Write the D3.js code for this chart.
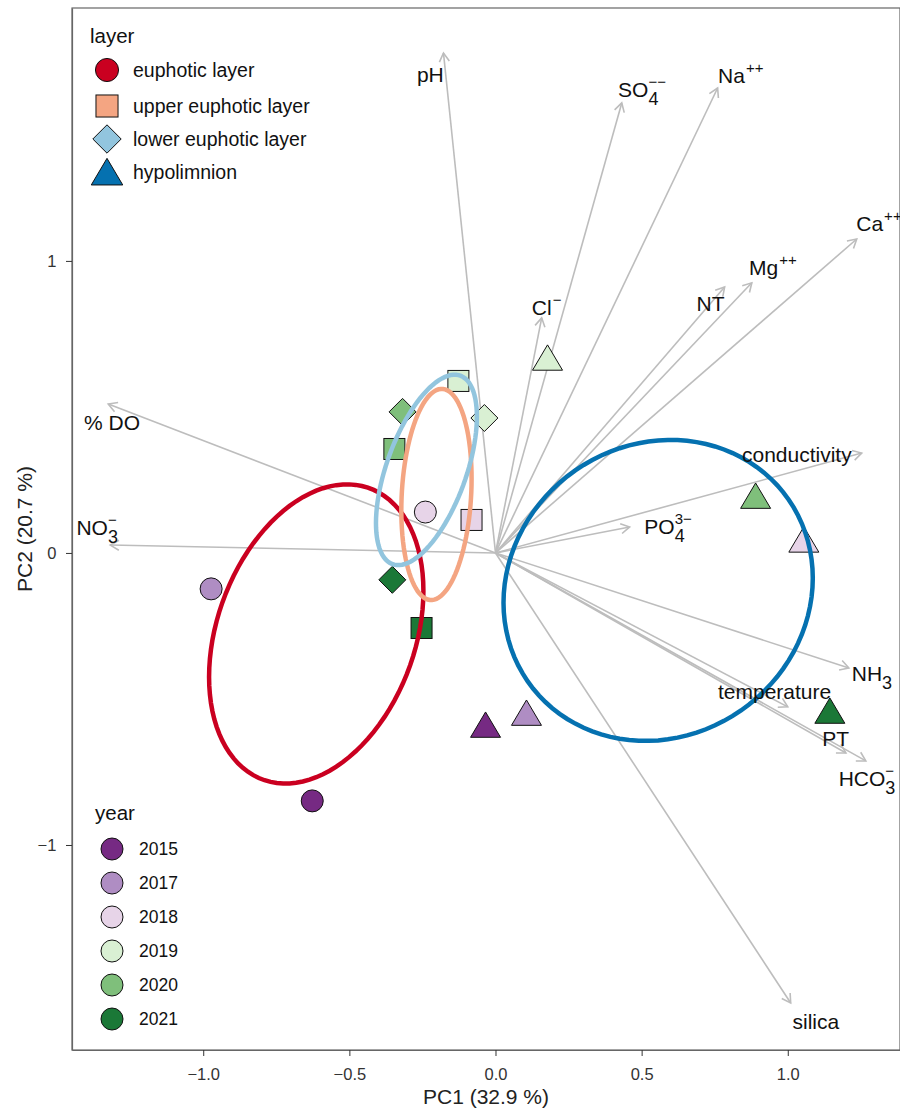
<!DOCTYPE html>
<html>
<head>
<meta charset="utf-8">
<script src="https://cdn.jsdelivr.net/npm/d3@7"></script>
<style>
  body { margin: 0; background: #fff; }
  svg { display: block; font-family: "Liberation Sans", Arial, sans-serif; }
</style>
</head>
<body>
<svg id="chart" width="900" height="1118"></svg>
<script>
// ---------- DATA ----------
const layers = ["euphotic layer", "upper euphotic layer", "lower euphotic layer", "hypolimnion"];
const layerColors = ["#CA0020", "#F4A582", "#92C5DE", "#0571B0"];
const years = ["2015", "2017", "2018", "2019", "2020", "2021"];
const yearColors = ["#762A83", "#AF8DC3", "#E7D4E8", "#D9F0D3", "#7FBF7B", "#1B7837"];

// samples: PC1, PC2, layer, year
const sampleLayer = [
  "euphotic layer", "euphotic layer", "euphotic layer",
  "upper euphotic layer", "upper euphotic layer", "upper euphotic layer", "upper euphotic layer",
  "lower euphotic layer", "lower euphotic layer", "lower euphotic layer",
  "hypolimnion", "hypolimnion", "hypolimnion", "hypolimnion", "hypolimnion", "hypolimnion"
];
const sampleYear = [
  "2017", "2015", "2018",
  "2019", "2020", "2018", "2021",
  "2020", "2019", "2021",
  "2019", "2020", "2018", "2021", "2015", "2017"
];
const samplePC1 = [-0.973, -0.627, -0.240, -0.127, -0.346, -0.082, -0.253, -0.318, -0.038, -0.353, 0.178, 0.890, 1.055, 1.144, -0.034, 0.106];
const samplePC2 = [-0.123, -0.849, 0.140, 0.589, 0.356, 0.113, -0.257, 0.483, 0.462, -0.092, 0.668, 0.195, 0.045, -0.541, -0.589, -0.548];

// loadings (arrow tips)
const varNames = ["pH", "SO4", "Na", "Ca", "Mg", "NT", "Cl", "conductivity", "PO4", "NH3", "temperature", "PT", "HCO3", "silica", "DO", "NO3"];
const varPC1 = [-0.178, 0.432, 0.760, 1.236, 0.877, 0.784, 0.158, 1.253, 0.459, 1.209, 1.000, 1.199, 1.267, 1.010, -1.325, -1.318];
const varPC2 = [1.712, 1.541, 1.592, 1.075, 0.925, 0.911, 0.805, 0.342, 0.089, -0.394, -0.527, -0.685, -0.712, -1.541, 0.510, 0.027];
// label text parts: base, subscript, superscript
const varBase = ["pH", "SO", "Na", "Ca", "Mg", "NT", "Cl", "conductivity", "PO", "NH", "temperature", "PT", "HCO", "silica", "% DO", "NO"];
const varSub  = ["", "4", "", "", "", "", "", "", "4", "3", "", "", "3", "", "", "3"];
const varSup  = ["", "\u2212\u2212", "++", "++", "++", "", "\u2212", "", "3\u2212", "", "", "", "\u2212", "", "", "\u2212"];
// label centres in PC units
const labPC1 = [-0.223, 0.503, 0.839, 1.312, 0.949, 0.736, 0.175, 1.031, 0.592, 1.288, 0.955, 1.164, 1.271, 1.096, -1.312, -1.363];
const labPC2 = [1.637, 1.586, 1.634, 1.127, 0.976, 0.853, 0.842, 0.336, 0.092, -0.414, -0.473, -0.634, -0.771, -1.606, 0.445, 0.086];

const xTicks = [-1.0, -0.5, 0.0, 0.5, 1.0];
const yTicks = [-1, 0, 1];
const xTitle = "PC1 (32.9 %)";
const yTitle = "PC2 (20.7 %)";

// ---------- LAYOUT ----------
const svg = d3.select("#chart");
const pLeft = 72, pRight = 900, pTop = 8, pBottom = 1050;
const x = d3.scaleLinear().domain([-1.449, 1.384]).range([pLeft, pRight]);
const y = d3.scaleLinear().domain([-1.702, 1.866]).range([pBottom, pTop]);
const layerFill = d3.scaleOrdinal().domain(layers).range(layerColors);
const yearFill = d3.scaleOrdinal().domain(years).range(yearColors);
const minus = s => s.replace("-", "\u2212");

function drawShape(g, layer, fill, s) {
  s = s || 1;
  if (layer === "euphotic layer") {
    g.append("circle").attr("r", 11 * s).attr("fill", fill).attr("stroke", "#111").attr("stroke-width", 1);
  } else if (layer === "upper euphotic layer") {
    const h = 10.5 * s;
    g.append("rect").attr("x", -h).attr("y", -h).attr("width", 2 * h).attr("height", 2 * h)
      .attr("fill", fill).attr("stroke", "#111").attr("stroke-width", 1);
  } else if (layer === "lower euphotic layer") {
    const h = 13.5 * s;
    g.append("path").attr("d", `M0,${-h}L${h},0L0,${h}L${-h},0Z`)
      .attr("fill", fill).attr("stroke", "#111").attr("stroke-width", 1);
  } else {
    const w = 15 * s, hh = 13 * s;
    g.append("path").attr("d", `M0,${-hh}L${w},${hh * 0.95}L${-w},${hh * 0.95}Z`)
      .attr("fill", fill).attr("stroke", "#111").attr("stroke-width", 1);
  }
}

// panel border
svg.append("rect").attr("x", pLeft).attr("y", pTop).attr("width", pRight - pLeft).attr("height", pBottom - pTop)
  .attr("fill", "none").attr("stroke", "#666").attr("stroke-width", 1.2);

// axes
const xAxis = d3.axisBottom(x).tickValues(xTicks).tickFormat(d => minus(d3.format(".1f")(d))).tickSize(6).tickSizeOuter(0);
const gx = svg.append("g").attr("transform", `translate(0,${pBottom})`).call(xAxis);
gx.select(".domain").attr("stroke", "#666").attr("stroke-width", 1.2);
gx.selectAll(".tick line").attr("stroke", "#333");
gx.selectAll(".tick text").attr("font-size", 16.5).attr("fill", "#333").attr("dy", "1.27em")
  .attr("font-family", "Liberation Sans, Arial, sans-serif");

const yAxis = d3.axisLeft(y).tickValues(yTicks).tickFormat(d => minus(String(d))).tickSize(6).tickSizeOuter(0);
const gy = svg.append("g").attr("transform", `translate(${pLeft},0)`).call(yAxis);
gy.select(".domain").attr("stroke", "#666").attr("stroke-width", 1.2);
gy.selectAll(".tick line").attr("stroke", "#333");
gy.selectAll(".tick text").attr("font-size", 16.5).attr("fill", "#333").attr("dx", "-0.4em")
  .attr("font-family", "Liberation Sans, Arial, sans-serif");

svg.append("text").attr("x", (pLeft + pRight) / 2).attr("y", 1104).attr("text-anchor", "middle")
  .attr("font-size", 21).attr("fill", "#222").text(xTitle);
svg.append("text").attr("transform", `translate(32,${(pTop + pBottom) / 2}) rotate(-90)`).attr("text-anchor", "middle")
  .attr("font-size", 21).attr("fill", "#222").text(yTitle);

// arrows
const plot = svg.append("g");
const arrowG = plot.append("g");
varNames.forEach((v, i) => {
  const x0 = x(0), y0 = y(0), x1 = x(varPC1[i]), y1 = y(varPC2[i]);
  arrowG.append("line").attr("x1", x0).attr("y1", y0).attr("x2", x1).attr("y2", y1)
    .attr("stroke", "#BDBDBD").attr("stroke-width", 1.6);
  const ang = Math.atan2(y1 - y0, x1 - x0), L = 10, a = Math.PI / 6;
  const p1 = [x1 - L * Math.cos(ang - a), y1 - L * Math.sin(ang - a)];
  const p2 = [x1 - L * Math.cos(ang + a), y1 - L * Math.sin(ang + a)];
  arrowG.append("path").attr("d", `M${p1[0]},${p1[1]}L${x1},${y1}L${p2[0]},${p2[1]}`)
    .attr("fill", "none").attr("stroke", "#BDBDBD").attr("stroke-width", 1.6);
});

// points
const ptG = plot.append("g");
samplePC1.forEach((d, i) => {
  const g = ptG.append("g").attr("transform", `translate(${x(samplePC1[i])},${y(samplePC2[i])})`);
  drawShape(g, sampleLayer[i], yearFill(sampleYear[i]), 1);
});

// ellipses (normal data ellipse from group covariance)
const ed = 1.0;
const ellG = plot.append("g");
layers.forEach(layer => {
  const idx = sampleLayer.map((l, i) => l === layer ? i : -1).filter(i => i >= 0);
  const xs = idx.map(i => samplePC1[i]), ys = idx.map(i => samplePC2[i]);
  const n = xs.length, mx = d3.mean(xs), my = d3.mean(ys);
  let sxx = 0, syy = 0, sxy = 0;
  for (let k = 0; k < n; k++) { sxx += (xs[k] - mx) ** 2; syy += (ys[k] - my) ** 2; sxy += (xs[k] - mx) * (ys[k] - my); }
  sxx /= n - 1; syy /= n - 1; sxy /= n - 1;
  const a = Math.sqrt(sxx), b = sxy / a, c = Math.sqrt(Math.max(syy - b * b, 0));
  const pts = d3.range(0, 101).map(k => {
    const t = -Math.PI + 2 * Math.PI * k / 100;
    return [x(mx + ed * Math.cos(t) * a), y(my + ed * (Math.cos(t) * b + Math.sin(t) * c))];
  });
  ellG.append("path").attr("d", d3.line()(pts) + "Z").attr("fill", "none")
    .attr("stroke", layerFill(layer)).attr("stroke-width", 4.5);
});

// variable labels
const labG = plot.append("g").attr("fill", "#111");
varNames.forEach((v, i) => {
  const g = labG.append("g");
  const fs = 21;
  const base = g.append("text").attr("font-size", fs).attr("x", 0).attr("y", 0).text(varBase[i]);
  const bw = base.node().getComputedTextLength();
  let extra = 0;
  if (varSub[i]) {
    const t = g.append("text").attr("font-size", 18).attr("x", bw).attr("y", 8).text(varSub[i]);
    extra = Math.max(extra, t.node().getComputedTextLength());
  }
  if (varSup[i]) {
    const t = g.append("text").attr("font-size", 15).attr("x", bw + (varSub[i] ? 0 : 1)).attr("y", -10).text(varSup[i]);
    extra = Math.max(extra, t.node().getComputedTextLength() + 1);
  }
  const tw = bw + extra;
  g.attr("transform", `translate(${x(labPC1[i]) - tw / 2},${y(labPC2[i]) + 7.5})`);
});

// legends
const leg1 = svg.append("g");
leg1.append("text").attr("x", 90).attr("y", 43).attr("font-size", 20.5).attr("fill", "#111").text("layer");
const l1y = [70, 106, 139, 172];
layers.forEach((l, i) => {
  const g = leg1.append("g").attr("transform", `translate(107,${l1y[i]})`);
  drawShape(g, l, layerFill(l), 1.05);
  leg1.append("text").attr("x", 133).attr("y", l1y[i] + 7).attr("font-size", 19.5).attr("fill", "#111").text(l);
});

const leg2 = svg.append("g");
leg2.append("text").attr("x", 95).attr("y", 820).attr("font-size", 20.5).attr("fill", "#111").text("year");
years.forEach((yr, i) => {
  const cy = 849 + i * 34;
  leg2.append("circle").attr("cx", 112).attr("cy", cy).attr("r", 11).attr("fill", yearFill(yr))
    .attr("stroke", "#111").attr("stroke-width", 1);
  leg2.append("text").attr("x", 139).attr("y", cy + 6).attr("font-size", 17.5).attr("fill", "#111").text(yr);
});
</script>
</body>
</html>
